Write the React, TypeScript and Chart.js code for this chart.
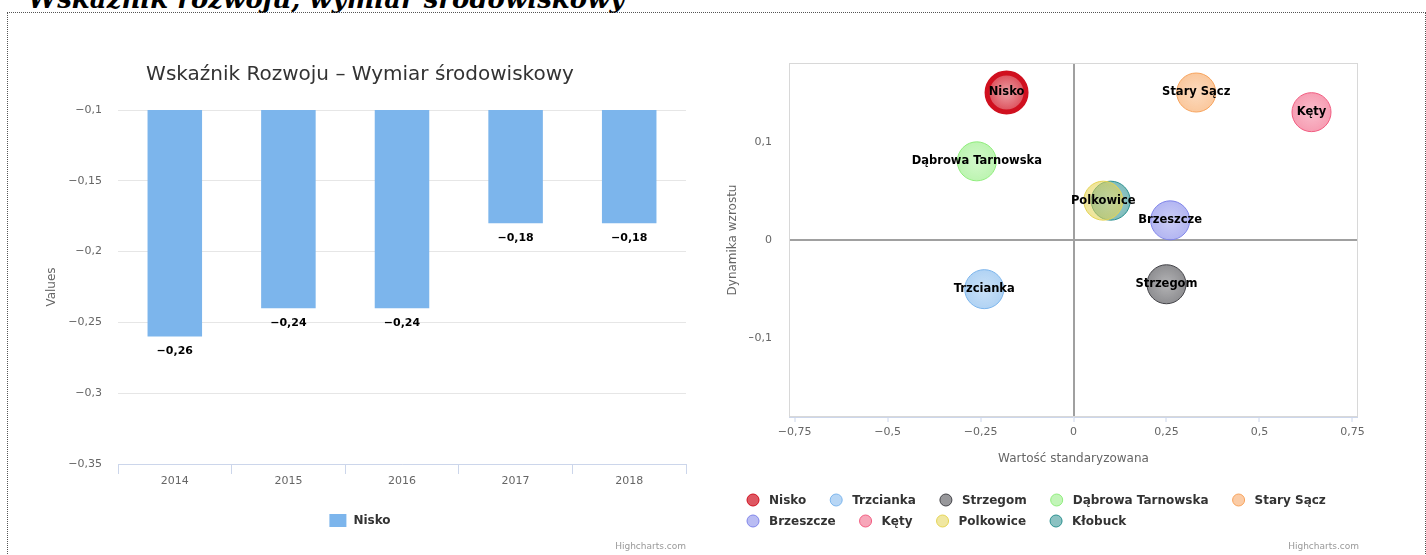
import React, { useEffect, useRef } from "react";
import { Chart, registerables } from "chart.js";

Chart.register(...registerables);

// ---------- data: left (bar) chart ----------
const years = ["2014", "2015", "2016", "2017", "2018"];
const niskoValues = [-0.26, -0.24, -0.24, -0.18, -0.18];
const barSeriesName = "Nisko";
const barTitle = "Wskaźnik Rozwoju – Wymiar środowiskowy";
const barYAxisTitle = "Values";
const barYMin = -0.35;
const barYMax = -0.1;
const barYStep = 0.05;

// ---------- data: right (bubble) chart ----------
const cities = [
  "Nisko",
  "Trzcianka",
  "Strzegom",
  "Dąbrowa Tarnowska",
  "Stary Sącz",
  "Brzeszcze",
  "Kęty",
  "Polkowice",
  "Kłobuck",
];
const standardizedValues = [-0.18, -0.24, 0.25, -0.26, 0.33, 0.26, 0.64, 0.08, 0.1];
const growthDynamics = [0.15, -0.05, -0.045, 0.08, 0.15, 0.02, 0.13, 0.04, 0.04];
const bubbleSizes = [19.5, 19.5, 19.5, 19.5, 19.5, 19.5, 19.5, 19.5, 19.5];
const cityColors = [
  "#d0101f",
  "#7cb5ec",
  "#434348",
  "#90ed7d",
  "#f7a35c",
  "#8085e9",
  "#f15c80",
  "#e4d354",
  "#2b908f",
];
const showBubbleLabel = [true, true, true, true, true, true, true, true, false];
const bubbleXTitle = "Wartość standaryzowana";
const bubbleYTitle = "Dynamika wzrostu";
const bubbleXMin = -0.765;
const bubbleXMax = 0.765;
const bubbleXStep = 0.25;
const bubbleYMin = -0.18;
const bubbleYMax = 0.18;
const bubbleYStep = 0.1;

const pageTitle = "Wskaźnik rozwoju, wymiar środowiskowy";
const creditText = "Highcharts.com";

const FONT = "'DejaVu Sans', 'Noto Sans', sans-serif";

function fmt(v: number): string {
  const r = Math.round(v * 1000) / 1000;
  const s = Math.abs(r).toString().replace(".", ",");
  return (r < 0 ? "\u2212" : "") + s;
}

function rgba(hex: string, a: number): string {
  const n = parseInt(hex.slice(1), 16);
  return `rgba(${(n >> 16) & 255},${(n >> 8) & 255},${n & 255},${a})`;
}

const leftDecor = {
  id: "leftDecor",
  afterDatasetsDraw(chart: any) {
    const ctx = chart.ctx as CanvasRenderingContext2D;
    const meta = chart.getDatasetMeta(0);
    ctx.save();
    ctx.font = `bold 11px ${FONT}`;
    ctx.fillStyle = "#000";
    ctx.textAlign = "center";
    ctx.textBaseline = "middle";
    meta.data.forEach((el: any, i: number) => {
      ctx.fillText(fmt(niskoValues[i]), el.x, el.y + 15);
    });
    ctx.restore();
  },
  afterDraw(chart: any) {
    const ctx = chart.ctx as CanvasRenderingContext2D;
    const a = chart.chartArea;
    const w = chart.width;
    ctx.save();
    // title
    ctx.font = `20px ${FONT}`;
    ctx.fillStyle = "#333";
    ctx.textAlign = "center";
    ctx.textBaseline = "middle";
    ctx.fillText(barTitle, w / 2, 55);
    // y axis title
    ctx.save();
    ctx.translate(42, (a.top + a.bottom) / 2);
    ctx.rotate(-Math.PI / 2);
    ctx.font = `12px ${FONT}`;
    ctx.fillStyle = "#666";
    ctx.fillText(barYAxisTitle, 0, 0);
    ctx.restore();
    // legend
    ctx.font = `bold 12px ${FONT}`;
    const tw = ctx.measureText(barSeriesName).width;
    const total = 17 + 7 + tw;
    const x0 = w / 2 - total / 2;
    ctx.fillStyle = chart.data.datasets[0].backgroundColor;
    ctx.fillRect(x0, 494, 17, 13);
    ctx.fillStyle = "#333";
    ctx.textAlign = "left";
    ctx.fillText(barSeriesName, x0 + 24, 501);
    // credits
    ctx.font = `9px ${FONT}`;
    ctx.fillStyle = "#999";
    ctx.textAlign = "right";
    ctx.fillText(creditText, a.right, 527);
    ctx.restore();
  },
};

const rightDecor = {
  id: "rightDecor",
  beforeDatasetsDraw(chart: any) {
    const ctx = chart.ctx as CanvasRenderingContext2D;
    const a = chart.chartArea;
    ctx.save();
    ctx.strokeStyle = "#d8d8d8";
    ctx.lineWidth = 1;
    ctx.strokeRect(a.left + 0.5, a.top + 0.5, a.right - a.left - 1, a.bottom - a.top - 1);
    ctx.restore();
  },
  afterDatasetsDraw(chart: any) {
    const ctx = chart.ctx as CanvasRenderingContext2D;
    ctx.save();
    ctx.font = `bold 11.5px ${FONT}`;
    ctx.fillStyle = "#000";
    ctx.textAlign = "center";
    ctx.textBaseline = "middle";
    cities.forEach((c, i) => {
      if (!showBubbleLabel[i]) return;
      const el = chart.getDatasetMeta(i).data[0];
      if (!el) return;
      ctx.fillText(c, el.x, el.y);
    });
    ctx.restore();
  },
  afterDraw(chart: any) {
    const ctx = chart.ctx as CanvasRenderingContext2D;
    const a = chart.chartArea;
    ctx.save();
    ctx.textBaseline = "middle";
    ctx.textAlign = "center";
    ctx.fillStyle = "#666";
    ctx.font = `12px ${FONT}`;
    // x title
    ctx.fillText(bubbleXTitle, (a.left + a.right) / 2, 439);
    // y title
    ctx.save();
    ctx.translate(23, (a.top + a.bottom) / 2);
    ctx.rotate(-Math.PI / 2);
    ctx.fillText(bubbleYTitle, 0, 0);
    ctx.restore();
    // legend (flowing, wrapping)
    ctx.font = `bold 12px ${FONT}`;
    ctx.textAlign = "left";
    const startX = 43;
    const limit = 645;
    let x = startX;
    let y = 480;
    cities.forEach((c, i) => {
      const tw = ctx.measureText(c).width;
      if (x + 16 + tw > limit && x !== startX) {
        x = startX;
        y += 21;
      }
      ctx.beginPath();
      ctx.arc(x, y, 6, 0, Math.PI * 2);
      ctx.fillStyle = rgba(cityColors[i], i === 0 ? 0.7 : 0.55);
      ctx.fill();
      ctx.lineWidth = 1;
      ctx.strokeStyle = cityColors[i];
      ctx.stroke();
      ctx.fillStyle = "#333";
      ctx.fillText(c, x + 16, y + 1);
      x += 16 + tw + 30;
    });
    // credits
    ctx.font = `9px ${FONT}`;
    ctx.fillStyle = "#999";
    ctx.textAlign = "right";
    ctx.fillText(creditText, a.right + 1, 527);
    ctx.restore();
  },
};

function bubbleFill(i: number) {
  return (c: any) => {
    const chart = c.chart;
    const raw = c.raw;
    const col = cityColors[i];
    const inner = 0.4;
    const outer = i === 0 ? 0.75 : 0.6;
    if (!raw || !chart.chartArea || !chart.scales.x) return rgba(col, 0.5);
    const px = chart.scales.x.getPixelForValue(raw.x);
    const py = chart.scales.y.getPixelForValue(raw.y);
    const r = raw.r;
    if (!isFinite(px) || !isFinite(py)) return rgba(col, 0.5);
    const g = chart.ctx.createRadialGradient(px, py, 0, px, py, r);
    g.addColorStop(0, rgba(col, inner));
    g.addColorStop(1, rgba(col, outer));
    return g;
  };
}

export default function App() {
  const leftRef = useRef<HTMLCanvasElement>(null);
  const rightRef = useRef<HTMLCanvasElement>(null);

  useEffect(() => {
    const tickFont = { family: FONT, size: 11 };
    const left = new Chart(leftRef.current as HTMLCanvasElement, {
      type: "bar",
      data: {
        labels: years,
        datasets: [
          {
            label: barSeriesName,
            data: niskoValues,
            backgroundColor: "#7cb5ec",
            borderWidth: 0,
            categoryPercentage: 0.6,
            barPercentage: 0.8,
          },
        ],
      },
      options: {
        responsive: false,
        animation: false,
        events: [],
        layout: { padding: { left: 48, right: 24, top: 90, bottom: 0 } },
        plugins: { legend: { display: false }, title: { display: false }, tooltip: { enabled: false } },
        scales: {
          x: {
            grid: { drawOnChartArea: false, drawTicks: true, tickLength: 10, tickColor: "#ccd6eb", offset: true },
            border: { display: true, color: "#ccd6eb" },
            ticks: { color: "#666", font: tickFont, padding: 1 },
            afterFit: (axis: any) => {
              axis.height = 91;
            },
          },
          y: {
            min: barYMin,
            max: barYMax,
            ticks: {
              stepSize: barYStep,
              color: "#666",
              font: tickFont,
              padding: 16,
              callback: (v: any) => fmt(Number(v)),
            },
            grid: { color: "#e6e6e6", drawTicks: false },
            border: { display: false },
            afterFit: (axis: any) => {
              axis.width = 60;
            },
          },
        },
      } as any,
      plugins: [leftDecor],
    });

    const zeroColor = (c: any) => (c.tick && Math.abs(c.tick.value) < 1e-9 ? "#a0a0a0" : "rgba(0,0,0,0)");
    const zeroWidth = (c: any) => (c.tick && Math.abs(c.tick.value) < 1e-9 ? 2 : 0);

    const right = new Chart(rightRef.current as HTMLCanvasElement, {
      type: "bubble",
      data: {
        datasets: cities.map((c, i) => ({
          label: c,
          data: [{ x: standardizedValues[i], y: growthDynamics[i], r: bubbleSizes[i] }],
          backgroundColor: bubbleFill(i),
          borderColor: cityColors[i],
          borderWidth: i === 0 ? 5 : 1,
        })),
      },
      options: {
        responsive: false,
        animation: false,
        events: [],
        layout: { padding: { left: 39, right: 58, top: 43, bottom: 0 } },
        plugins: { legend: { display: false }, title: { display: false }, tooltip: { enabled: false } },
        scales: {
          x: {
            type: "linear",
            min: bubbleXMin,
            max: bubbleXMax,
            ticks: {
              stepSize: bubbleXStep,
              includeBounds: false,
              color: "#666",
              font: tickFont,
              padding: 4,
              callback: (v: any) => fmt(Number(v)),
            },
            grid: {
              color: zeroColor,
              lineWidth: zeroWidth,
              drawTicks: true,
              tickLength: 5,
              tickColor: "#ccd6eb",
              tickWidth: 1,
            },
            border: { display: true, color: "#ccd6eb" },
            afterFit: (axis: any) => {
              axis.height = 138;
            },
          },
          y: {
            type: "linear",
            min: bubbleYMin,
            max: bubbleYMax,
            ticks: {
              stepSize: bubbleYStep,
              includeBounds: false,
              color: "#666",
              font: tickFont,
              padding: 17,
              callback: (v: any) => fmt(Number(v)),
            },
            grid: { color: zeroColor, lineWidth: zeroWidth, drawTicks: false },
            border: { display: true, color: "#d8d8d8" },
            afterFit: (axis: any) => {
              axis.width = 40;
            },
          },
        },
      } as any,
      plugins: [rightDecor],
    });

    return () => {
      left.destroy();
      right.destroy();
    };
  }, []);

  return (
    <div
      style={{
        position: "absolute",
        left: 0,
        top: 0,
        width: 1426,
        height: 555,
        overflow: "hidden",
        background: "#fff",
      }}
    >
      <div
        style={{
          position: "absolute",
          left: 28,
          top: -14,
          font: "italic bold 26px 'DejaVu Serif', serif",
          lineHeight: "26px",
          whiteSpace: "nowrap",
          color: "#000",
        }}
      >
        {pageTitle}
      </div>
      <div
        style={{
          position: "absolute",
          left: 7,
          top: 12,
          width: 1419,
          height: 620,
          border: "1px dotted #555",
          boxSizing: "border-box",
        }}
      />
      <canvas
        ref={leftRef}
        width={700}
        height={535}
        style={{ position: "absolute", left: 10, top: 20, width: 700, height: 535 }}
      />
      <canvas
        ref={rightRef}
        width={706}
        height={535}
        style={{ position: "absolute", left: 710, top: 20, width: 706, height: 535 }}
      />
    </div>
  );
}
